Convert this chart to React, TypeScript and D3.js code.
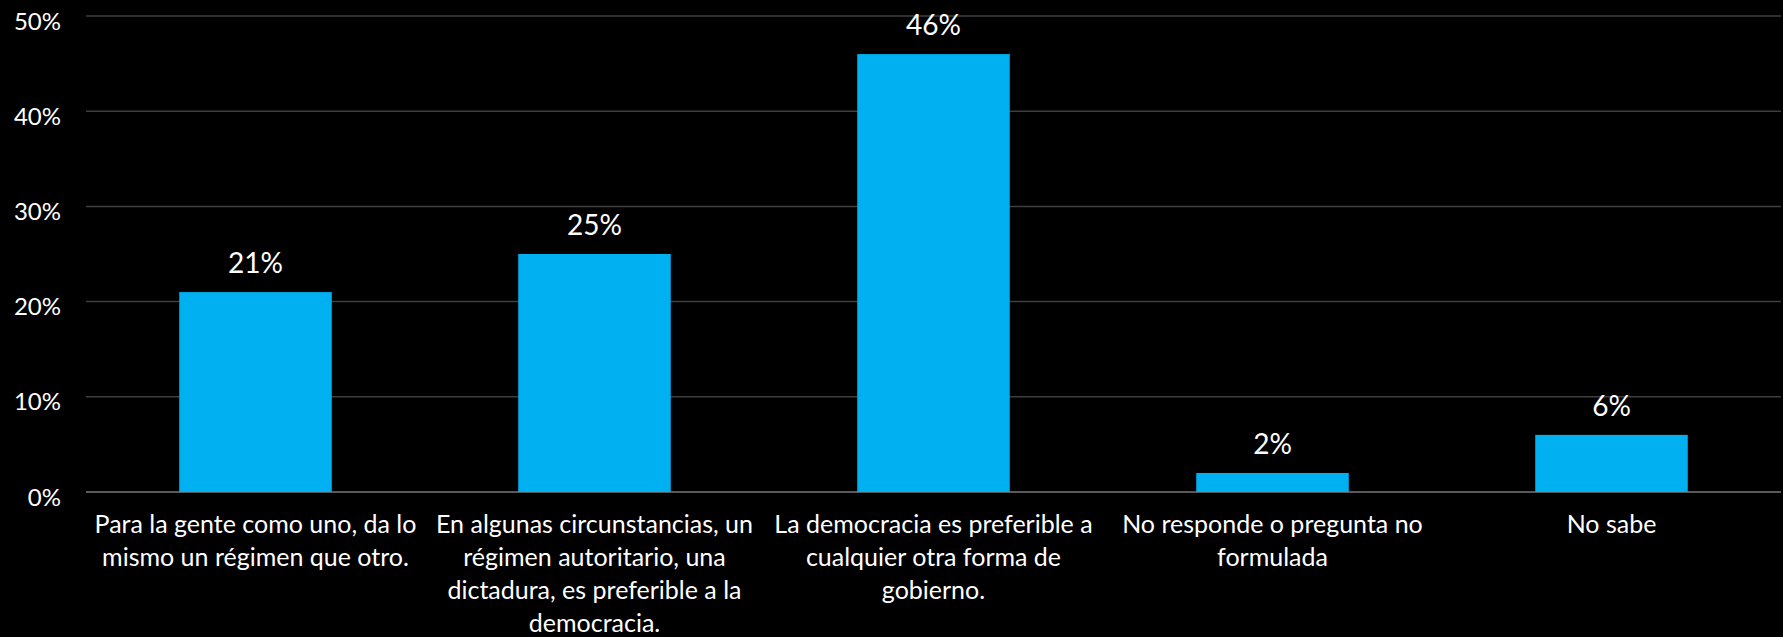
import React from "react";
import * as d3 from "d3";

const categories: string[][] = [
  ["Para la gente como uno, da lo", "mismo un régimen que otro."],
  ["En algunas circunstancias, un", "régimen autoritario, una", "dictadura, es preferible a la", "democracia."],
  ["La democracia es preferible a", "cualquier otra forma de", "gobierno."],
  ["No responde o pregunta no", "formulada"],
  ["No sabe"],
];
const values: number[] = [21, 25, 46, 2, 6];
const yTicks: number[] = [0, 10, 20, 30, 40, 50];

const W = 1783;
const H = 637;
const FONT = "Lato, 'Open Sans', sans-serif";

export default function App() {
  const x = d3
    .scaleBand<number>()
    .domain(values.map((_, i) => i))
    .range([86, 1781])
    .paddingInner(0.55)
    .paddingOuter(0.275);
  const y = d3.scaleLinear().domain([0, 50]).range([492, 16]);

  return (
    <svg
      width={W}
      height={H}
      style={{ position: "absolute", left: 0, top: 0, display: "block", background: "#000" }}
      fontFamily={FONT}
    >
      <rect x={0} y={0} width={W} height={H} fill="#000" />
      {yTicks.map((t) => (
        <g key={t}>
          <line
            x1={86}
            x2={1781}
            y1={y(t)}
            y2={y(t)}
            stroke={t === 0 ? "#595959" : "#3f3f3f"}
            strokeWidth={t === 0 ? 2 : 1.5}
          />
          <text x={61} y={y(t) + 4} fill="#fff" fontSize={24} textAnchor="end" dominantBaseline="central">
            {t}%
          </text>
        </g>
      ))}
      {values.map((v, i) => (
        <g key={i}>
          <rect x={x(i)} y={y(v)} width={x.bandwidth()} height={y(0) - y(v)} fill="#00B0F0" />
          <text
            x={(x(i) as number) + x.bandwidth() / 2}
            y={y(v) - 19}
            fill="#fff"
            fontSize={28}
            textAnchor="middle"
          >
            {v}%
          </text>
          <text
            x={(x(i) as number) + x.bandwidth() / 2}
            y={533}
            fill="#fff"
            fontSize={25}
            textAnchor="middle"
          >
            {categories[i].map((line, j) => (
              <tspan key={j} x={(x(i) as number) + x.bandwidth() / 2} dy={j === 0 ? 0 : 33}>
                {line}
              </tspan>
            ))}
          </text>
        </g>
      ))}
    </svg>
  );
}
